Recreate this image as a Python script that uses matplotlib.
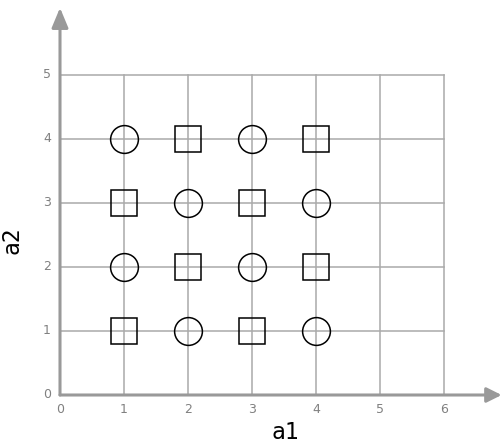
import numpy as np
import matplotlib
matplotlib.use("Agg")
import matplotlib.pyplot as plt

# lattice points, alternating shapes
circle_a1 = [1, 3, 2, 4, 1, 3, 2, 4]
circle_a2 = [4, 4, 3, 3, 2, 2, 1, 1]
square_a1 = [2, 4, 1, 3, 2, 4, 1, 3]
square_a2 = [4, 4, 3, 3, 2, 2, 1, 1]

x_ticks = [0, 1, 2, 3, 4, 5, 6]
y_ticks = [0, 1, 2, 3, 4, 5]

W, H = 501, 445
fig = plt.figure(figsize=(W / 100, H / 100), dpi=100)
xmax, ymax = 6.9, 6.05
ax = fig.add_axes([60 / W, 50 / H, xmax * 64 / W, ymax * 64 / H])
ax.set_xlim(0, xmax)
ax.set_ylim(0, ymax)
ax.axis("off")

grid_c = "#aaaaaa"
axis_c = "#999999"
tick_c = "#808080"

# grid only inside the tick range
for x in x_ticks[1:]:
    ax.plot([x, x], [0, y_ticks[-1]], color=grid_c, lw=1.1, zorder=1)
for y in y_ticks[1:]:
    ax.plot([0, x_ticks[-1]], [y, y], color=grid_c, lw=1.1, zorder=1)

# axes with arrow heads
ax.annotate("", xy=(xmax, 0), xytext=(0, 0),
            arrowprops=dict(arrowstyle="-|>,head_length=0.9,head_width=0.45",
                            color=axis_c, lw=2.2, shrinkA=0, shrinkB=0),
            zorder=2)
ax.annotate("", xy=(0, ymax), xytext=(0, 0),
            arrowprops=dict(arrowstyle="-|>,head_length=1.2,head_width=0.5",
                            color=axis_c, lw=2.2, shrinkA=0, shrinkB=0),
            zorder=2)

# tick labels
for x in x_ticks:
    ax.text(x, -0.12, str(x), ha="center", va="top", color=tick_c, fontsize=9)
for y in y_ticks:
    ax.text(-0.14, y, str(y), ha="right", va="center", color=tick_c, fontsize=9)

ax.plot(circle_a1, circle_a2, "o", ms=20, mfc="none", mec="black", mew=1.1,
        ls="none", zorder=3)
ax.plot(square_a1, square_a2, "s", ms=19, mfc="none", mec="black", mew=1.1,
        ls="none", zorder=3)

ax.text(3.52, -0.4, "a1", ha="center", va="top", fontsize=16.5,
        family=["DejaVu Sans Mono", "Liberation Mono"])
ax.text(-0.75, 2.42, "a2", ha="center", va="center", fontsize=16.5,
        family=["DejaVu Sans Mono", "Liberation Mono"], rotation=90)

fig.savefig("out.png", dpi=100)
